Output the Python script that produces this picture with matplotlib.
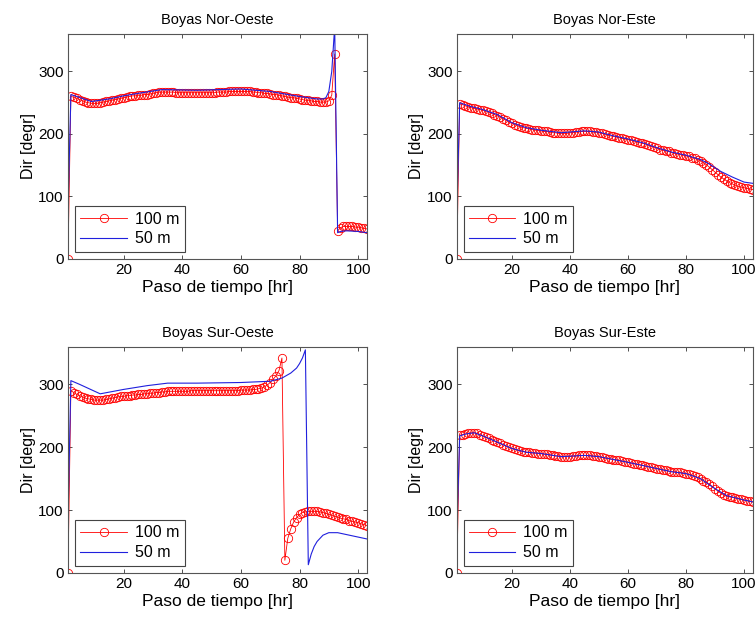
import matplotlib.pyplot as plt
import numpy as np

plt.rcParams['font.family'] = ['Liberation Sans', 'DejaVu Sans']

# hours 1..103 for the 100 m series (one marker per hour)
horas = np.arange(1, 104)

no_100 = [0, 260, 259, 257, 255, 253, 251, 250, 249, 249,
          249, 250, 251, 252, 253, 254, 255, 256, 257, 258,
          259, 260, 261, 261, 262, 262, 263, 263, 264, 265,
          266, 267, 267, 267, 267, 267, 267, 266, 266, 266,
          266, 266, 266, 266, 266, 266, 266, 266, 266, 266,
          266, 267, 267, 267, 267, 268, 268, 268, 268, 268,
          268, 268, 268, 267, 267, 266, 266, 265, 265, 264,
          263, 263, 262, 261, 260, 259, 258, 258, 257, 256,
          255, 254, 254, 253, 252, 252, 251, 251, 251, 253,
          262, 328, 45, 50, 52, 52, 52, 52, 51, 51,
          50, 49, 48]
no_50_h = [1, 2, 4, 9, 15, 20, 25, 33, 45, 60, 70, 80, 86, 88, 89, 90, 91, 92, 93, 94, 96, 100, 103]
no_50 = [72, 263, 260, 252, 256, 261, 265, 271, 270, 272, 268, 260, 256, 256, 258, 268, 300, 372, 42, 44, 45, 44, 42]

ne_100 = [0, 248, 247, 245, 243, 242, 241, 240, 239, 238,
          237, 235, 233, 231, 229, 227, 224, 222, 219, 217,
          215, 213, 211, 210, 209, 208, 207, 206, 206, 205,
          204, 204, 203, 202, 202, 201, 201, 201, 201, 202,
          202, 203, 203, 204, 204, 204, 204, 203, 203, 202,
          201, 200, 198, 197, 196, 195, 194, 193, 192, 191,
          190, 189, 187, 186, 185, 184, 182, 180, 179, 177,
          175, 174, 173, 172, 170, 169, 168, 167, 166, 165,
          164, 162, 161, 159, 157, 154, 151, 147, 143, 139,
          135, 131, 128, 125, 122, 120, 118, 116, 115, 114,
          113, 112, 111]
ne_50_h = [1, 2, 5, 10, 15, 20, 25, 30, 37, 45, 50, 55, 60, 65, 70, 75, 80, 85, 88, 92, 96, 100, 103]
ne_50 = [68, 250, 245, 239, 231, 218, 210, 206, 202, 205, 203, 197, 192, 186, 178, 171, 166, 159, 152, 140, 131, 123, 121]

so_100 = [0, 290, 287, 284, 282, 280, 278, 277, 276, 275,
          275, 275, 275, 276, 277, 278, 279, 280, 281, 281,
          282, 282, 283, 283, 284, 284, 285, 285, 286, 286,
          287, 287, 288, 288, 289, 289, 289, 289, 289, 289,
          289, 289, 290, 290, 290, 290, 290, 290, 290, 290,
          290, 290, 290, 290, 290, 290, 290, 290, 290, 291,
          291, 291, 291, 292, 292, 293, 294, 296, 299, 303,
          308, 314, 322, 342, 20, 55, 70, 81, 88, 93,
          96, 97, 98, 98, 98, 98, 97, 96, 95, 93,
          92, 90, 89, 87, 86, 85, 83, 82, 81, 80,
          78, 77, 75]
so_50_h = [1, 2, 5, 12, 20, 28, 35, 45, 60, 70, 74, 77, 79, 80, 81, 82, 83, 84, 85, 86, 88, 90, 93, 97, 100, 103]
so_50 = [80, 306, 300, 285, 292, 298, 302, 302, 303, 305, 310, 318, 326, 333, 342, 355, 13, 30, 42, 50, 60, 64, 64, 60, 57, 54]

se_100 = [0, 219, 220, 221, 222, 223, 223, 222, 220, 218,
          216, 214, 212, 210, 208, 206, 204, 202, 200, 198,
          197, 195, 194, 193, 192, 192, 191, 191, 190, 190,
          189, 189, 188, 187, 186, 186, 185, 185, 185, 185,
          186, 186, 187, 187, 187, 187, 187, 186, 186, 185,
          184, 183, 182, 181, 180, 180, 179, 178, 177, 176,
          175, 174, 173, 172, 171, 170, 169, 168, 167, 166,
          165, 164, 163, 162, 161, 161, 160, 160, 159, 158,
          157, 156, 154, 152, 150, 147, 144, 141, 138, 134,
          130, 127, 124, 122, 121, 120, 119, 118, 117, 116,
          115, 114, 113]
se_50_h = [1, 2, 4, 7, 10, 15, 20, 25, 30, 37, 45, 50, 60, 70, 75, 80, 85, 90, 94, 100, 103]
se_50 = [60, 218, 221, 223, 218, 208, 198, 192, 190, 185, 187, 185, 176, 166, 161, 158, 150, 134, 123, 116, 113]

titulos = ['Boyas Nor-Oeste', 'Boyas Nor-Este', 'Boyas Sur-Oeste', 'Boyas Sur-Este']
datos = [(no_100, no_50_h, no_50), (ne_100, ne_50_h, ne_50),
         (so_100, so_50_h, so_50), (se_100, se_50_h, se_50)]

fig = plt.figure(figsize=(7.55, 6.18), dpi=100)
pos = [[0.090, 0.581, 0.396, 0.364], [0.605, 0.581, 0.392, 0.364],
       [0.090, 0.073, 0.396, 0.366], [0.605, 0.073, 0.392, 0.366]]

for p, tit, (r100, h50, b50) in zip(pos, titulos, datos):
    ax = fig.add_axes(p)
    ax.plot(horas, r100, color='red', lw=0.6, marker='o', ms=6,
            mfc='none', mec='red', mew=0.6, label='100 m')
    ax.plot(h50, b50, color='#2020dd', lw=0.8, label='50 m')
    ax.set_xlim(1, 103)
    ax.set_ylim(0, 360)
    ax.set_xticks([20, 40, 60, 80, 100])
    ax.set_yticks([0, 100, 200, 300])
    ax.tick_params(direction='in', length=3, width=0.6, top=True, right=True,
                   labelsize=11, colors='#333333', labelcolor='black', pad=3)
    for s in ax.spines.values():
        s.set_color('#555555')
        s.set_linewidth(0.8)
    ax.set_title(tit, fontsize=10.5, pad=7)
    ax.set_xlabel('Paso de tiempo [hr]', fontsize=12.5, labelpad=2)
    ax.set_ylabel('Dir [degr]', fontsize=11.5, labelpad=2)
    leg = ax.legend(loc='lower left', bbox_to_anchor=(0.023, 0.031), borderaxespad=0,
                    fontsize=11.5, numpoints=1, handlelength=2.9, handletextpad=0.5,
                    labelspacing=0.3, borderpad=0.35, fancybox=False, framealpha=1)
    leg.get_frame().set_edgecolor('#444444')
    leg.get_frame().set_linewidth(0.8)

fig.savefig('out.png', dpi=100)
